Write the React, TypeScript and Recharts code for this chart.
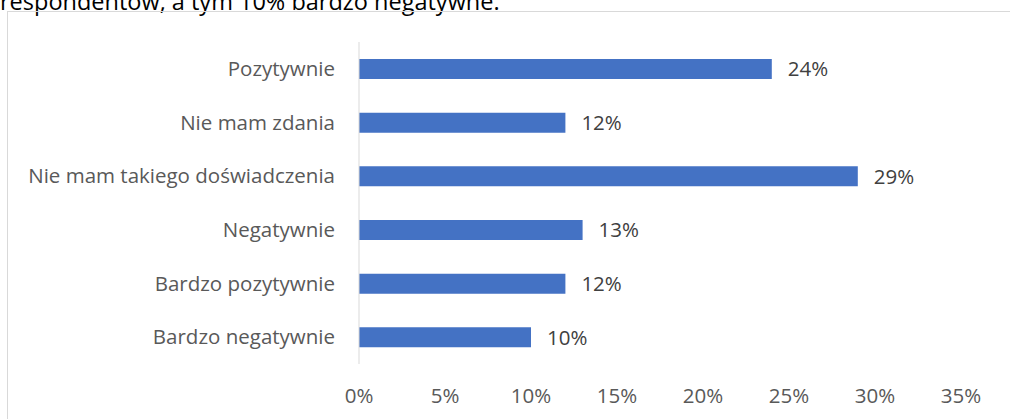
import { Bar, BarChart, LabelList, XAxis, YAxis } from "recharts";

const categories = [
  "Pozytywnie",
  "Nie mam zdania",
  "Nie mam takiego doświadczenia",
  "Negatywnie",
  "Bardzo pozytywnie",
  "Bardzo negatywnie",
];
const shares = [24, 12, 29, 13, 12, 10];
const xTicks = [0, 5, 10, 15, 20, 25, 30, 35];

const data = categories.map((name, i) => ({ name, value: shares[i] }));

const font = "'Open Sans', sans-serif";

export default function App() {
  return (
    <div
      style={{
        position: "fixed",
        left: 0,
        top: 0,
        width: 1010,
        height: 419,
        overflow: "hidden",
        background: "#fff",
        fontFamily: font,
      }}
    >
      <div
        style={{
          position: "absolute",
          left: 0,
          top: -11,
          fontSize: 23.5,
          lineHeight: "24px",
          color: "#000",
          whiteSpace: "nowrap",
        }}
      >
        respondentów, a tym 10% bardzo negatywne.
      </div>
      <div
        style={{
          position: "absolute",
          left: 7,
          top: 11,
          width: 1020,
          height: 430,
          border: "1px solid #d9d9d9",
          boxSizing: "border-box",
        }}
      />
      <div style={{ position: "absolute", left: 0, top: 0 }}>
        <BarChart
          width={1010}
          height={419}
          data={data}
          layout="vertical"
          margin={{ top: 42, right: 49, bottom: 0, left: 0 }}
        >
          <XAxis
            type="number"
            domain={[0, 35]}
            ticks={xTicks}
            tickFormatter={(v) => `${v}%`}
            axisLine={false}
            tickLine={false}
            tickSize={0}
            tickMargin={24}
            height={55}
            tick={{ fill: "#595959", fontSize: 20.5, fontFamily: font }}
            interval={0}
          />
          <YAxis
            type="category"
            dataKey="name"
            width={359}
            axisLine={{ stroke: "#d9d9d9" }}
            tickLine={false}
            tickSize={0}
            tickMargin={24}
            tick={{ fill: "#595959", fontSize: 20.5, fontFamily: font }}
            interval={0}
          />
          <Bar dataKey="value" fill="#4472c4" barSize={20} isAnimationActive={false}>
            <LabelList
              dataKey="value"
              position="right"
              offset={16}
              formatter={(v: number) => `${v}%`}
              style={{ fill: "#404040", fontSize: 20.5, fontFamily: font }}
            />
          </Bar>
        </BarChart>
      </div>
    </div>
  );
}
